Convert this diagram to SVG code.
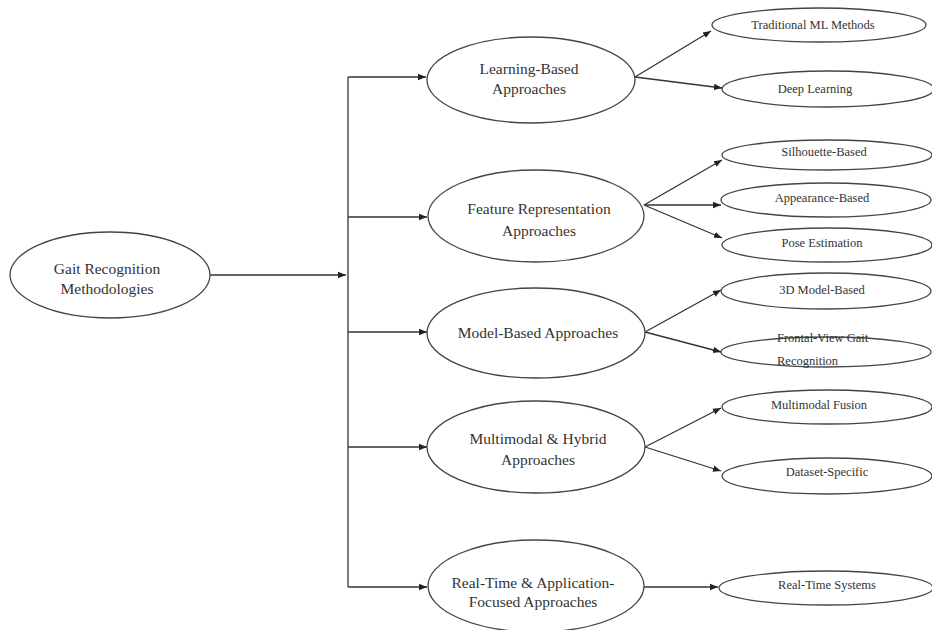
<svg xmlns="http://www.w3.org/2000/svg" width="932" height="630" viewBox="0 0 932 630">
<style>
.n{fill:#fff;stroke:#444;stroke-width:1.3}
.c{fill:none;stroke:#333;stroke-width:1.3}
text{font-family:"Liberation Serif","Times New Roman",serif;fill:#333;text-anchor:middle;dominant-baseline:central}
.m{font-size:15.5px}
.l{font-size:12.5px}
</style>
<defs>
<marker id="a" viewBox="0 0 10 10" refX="10" refY="5" markerWidth="8" markerHeight="8" markerUnits="userSpaceOnUse" orient="auto">
<path d="M0,1 L10,5 L0,9 z" fill="#222"/>
</marker>
</defs>
<rect width="932" height="630" fill="#fff"/>
<g id="connectors">
<path class="c" d="M210,275 H346" marker-end="url(#a)"/>
<path class="c" d="M348,77 V587"/>
<path class="c" d="M348,77 H426" marker-end="url(#a)"/>
<path class="c" d="M348,217 H427" marker-end="url(#a)"/>
<path class="c" d="M348,332 H427" marker-end="url(#a)"/>
<path class="c" d="M348,447 H427" marker-end="url(#a)"/>
<path class="c" d="M348,587 H427" marker-end="url(#a)"/>
<path class="c" d="M635,77 L711,31" marker-end="url(#a)"/>
<path class="c" d="M635,77 L722,88" marker-end="url(#a)"/>
<path class="c" d="M644,205 L722,160" marker-end="url(#a)"/>
<path class="c" d="M644,205 L721,205" marker-end="url(#a)"/>
<path class="c" d="M644,205 L722,238" marker-end="url(#a)"/>
<path class="c" d="M645,332 L721,290" marker-end="url(#a)"/>
<path class="c" d="M645,332 L721,352" marker-end="url(#a)"/>
<path class="c" d="M645,447 L721,408" marker-end="url(#a)"/>
<path class="c" d="M645,447 L721,471" marker-end="url(#a)"/>
<path class="c" d="M644,587 H718" marker-end="url(#a)"/>
</g>
<g id="root"><ellipse class="n" cx="110" cy="275" rx="100" ry="43"/><text class="m" x="107" y="268">Gait Recognition</text><text class="m" x="107" y="288">Methodologies</text></g>
<g id="learning"><ellipse class="n" cx="531" cy="80" rx="104" ry="43"/><text class="m" x="529" y="68">Learning-Based</text><text class="m" x="529" y="88">Approaches</text></g>
<g id="feature"><ellipse class="n" cx="536" cy="216" rx="108" ry="46"/><text class="m" x="539" y="208">Feature Representation</text><text class="m" x="539" y="230">Approaches</text></g>
<g id="model"><ellipse class="n" cx="536" cy="333" rx="109" ry="45"/><text class="m" x="538" y="332">Model-Based Approaches</text></g>
<g id="multimodal"><ellipse class="n" cx="536" cy="447" rx="109" ry="46"/><text class="m" x="538" y="438">Multimodal &amp; Hybrid</text><text class="m" x="538" y="459">Approaches</text></g>
<g id="realtime"><ellipse class="n" cx="536" cy="586" rx="108" ry="46"/><text class="m" x="533" y="582">Real-Time &amp; Application-</text><text class="m" x="533" y="601">Focused Approaches</text></g>
<g id="traditional"><ellipse class="n" cx="819" cy="25" rx="107" ry="17"/><text class="l" x="813" y="25">Traditional ML Methods</text></g>
<g id="deep"><ellipse class="n" cx="828" cy="89" rx="106" ry="18"/><text class="l" x="815" y="89">Deep Learning</text></g>
<g id="silhouette"><ellipse class="n" cx="827" cy="155" rx="105" ry="15"/><text class="l" x="824" y="152">Silhouette-Based</text></g>
<g id="appearance"><ellipse class="n" cx="826" cy="200" rx="105" ry="17"/><text class="l" x="822" y="198">Appearance-Based</text></g>
<g id="pose"><ellipse class="n" cx="827" cy="245" rx="105" ry="17"/><text class="l" x="822" y="243">Pose Estimation</text></g>
<g id="model3d"><ellipse class="n" cx="826" cy="291" rx="105" ry="18"/><text class="l" x="822" y="290">3D Model-Based</text></g>
<g id="frontal"><ellipse class="n" cx="826" cy="352" rx="105" ry="15"/><text class="l" x="777" y="338" style="text-anchor:start">Frontal-View Gait</text><text class="l" x="777" y="361" style="text-anchor:start">Recognition</text></g>
<g id="fusion"><ellipse class="n" cx="827" cy="407" rx="105" ry="17"/><text class="l" x="819" y="405">Multimodal Fusion</text></g>
<g id="dataset"><ellipse class="n" cx="827" cy="476" rx="105" ry="18"/><text class="l" x="827" y="472">Dataset-Specific</text></g>
<g id="rtsystems"><ellipse class="n" cx="826" cy="588" rx="107" ry="17"/><text class="l" x="827" y="585">Real-Time Systems</text></g>
</svg>
